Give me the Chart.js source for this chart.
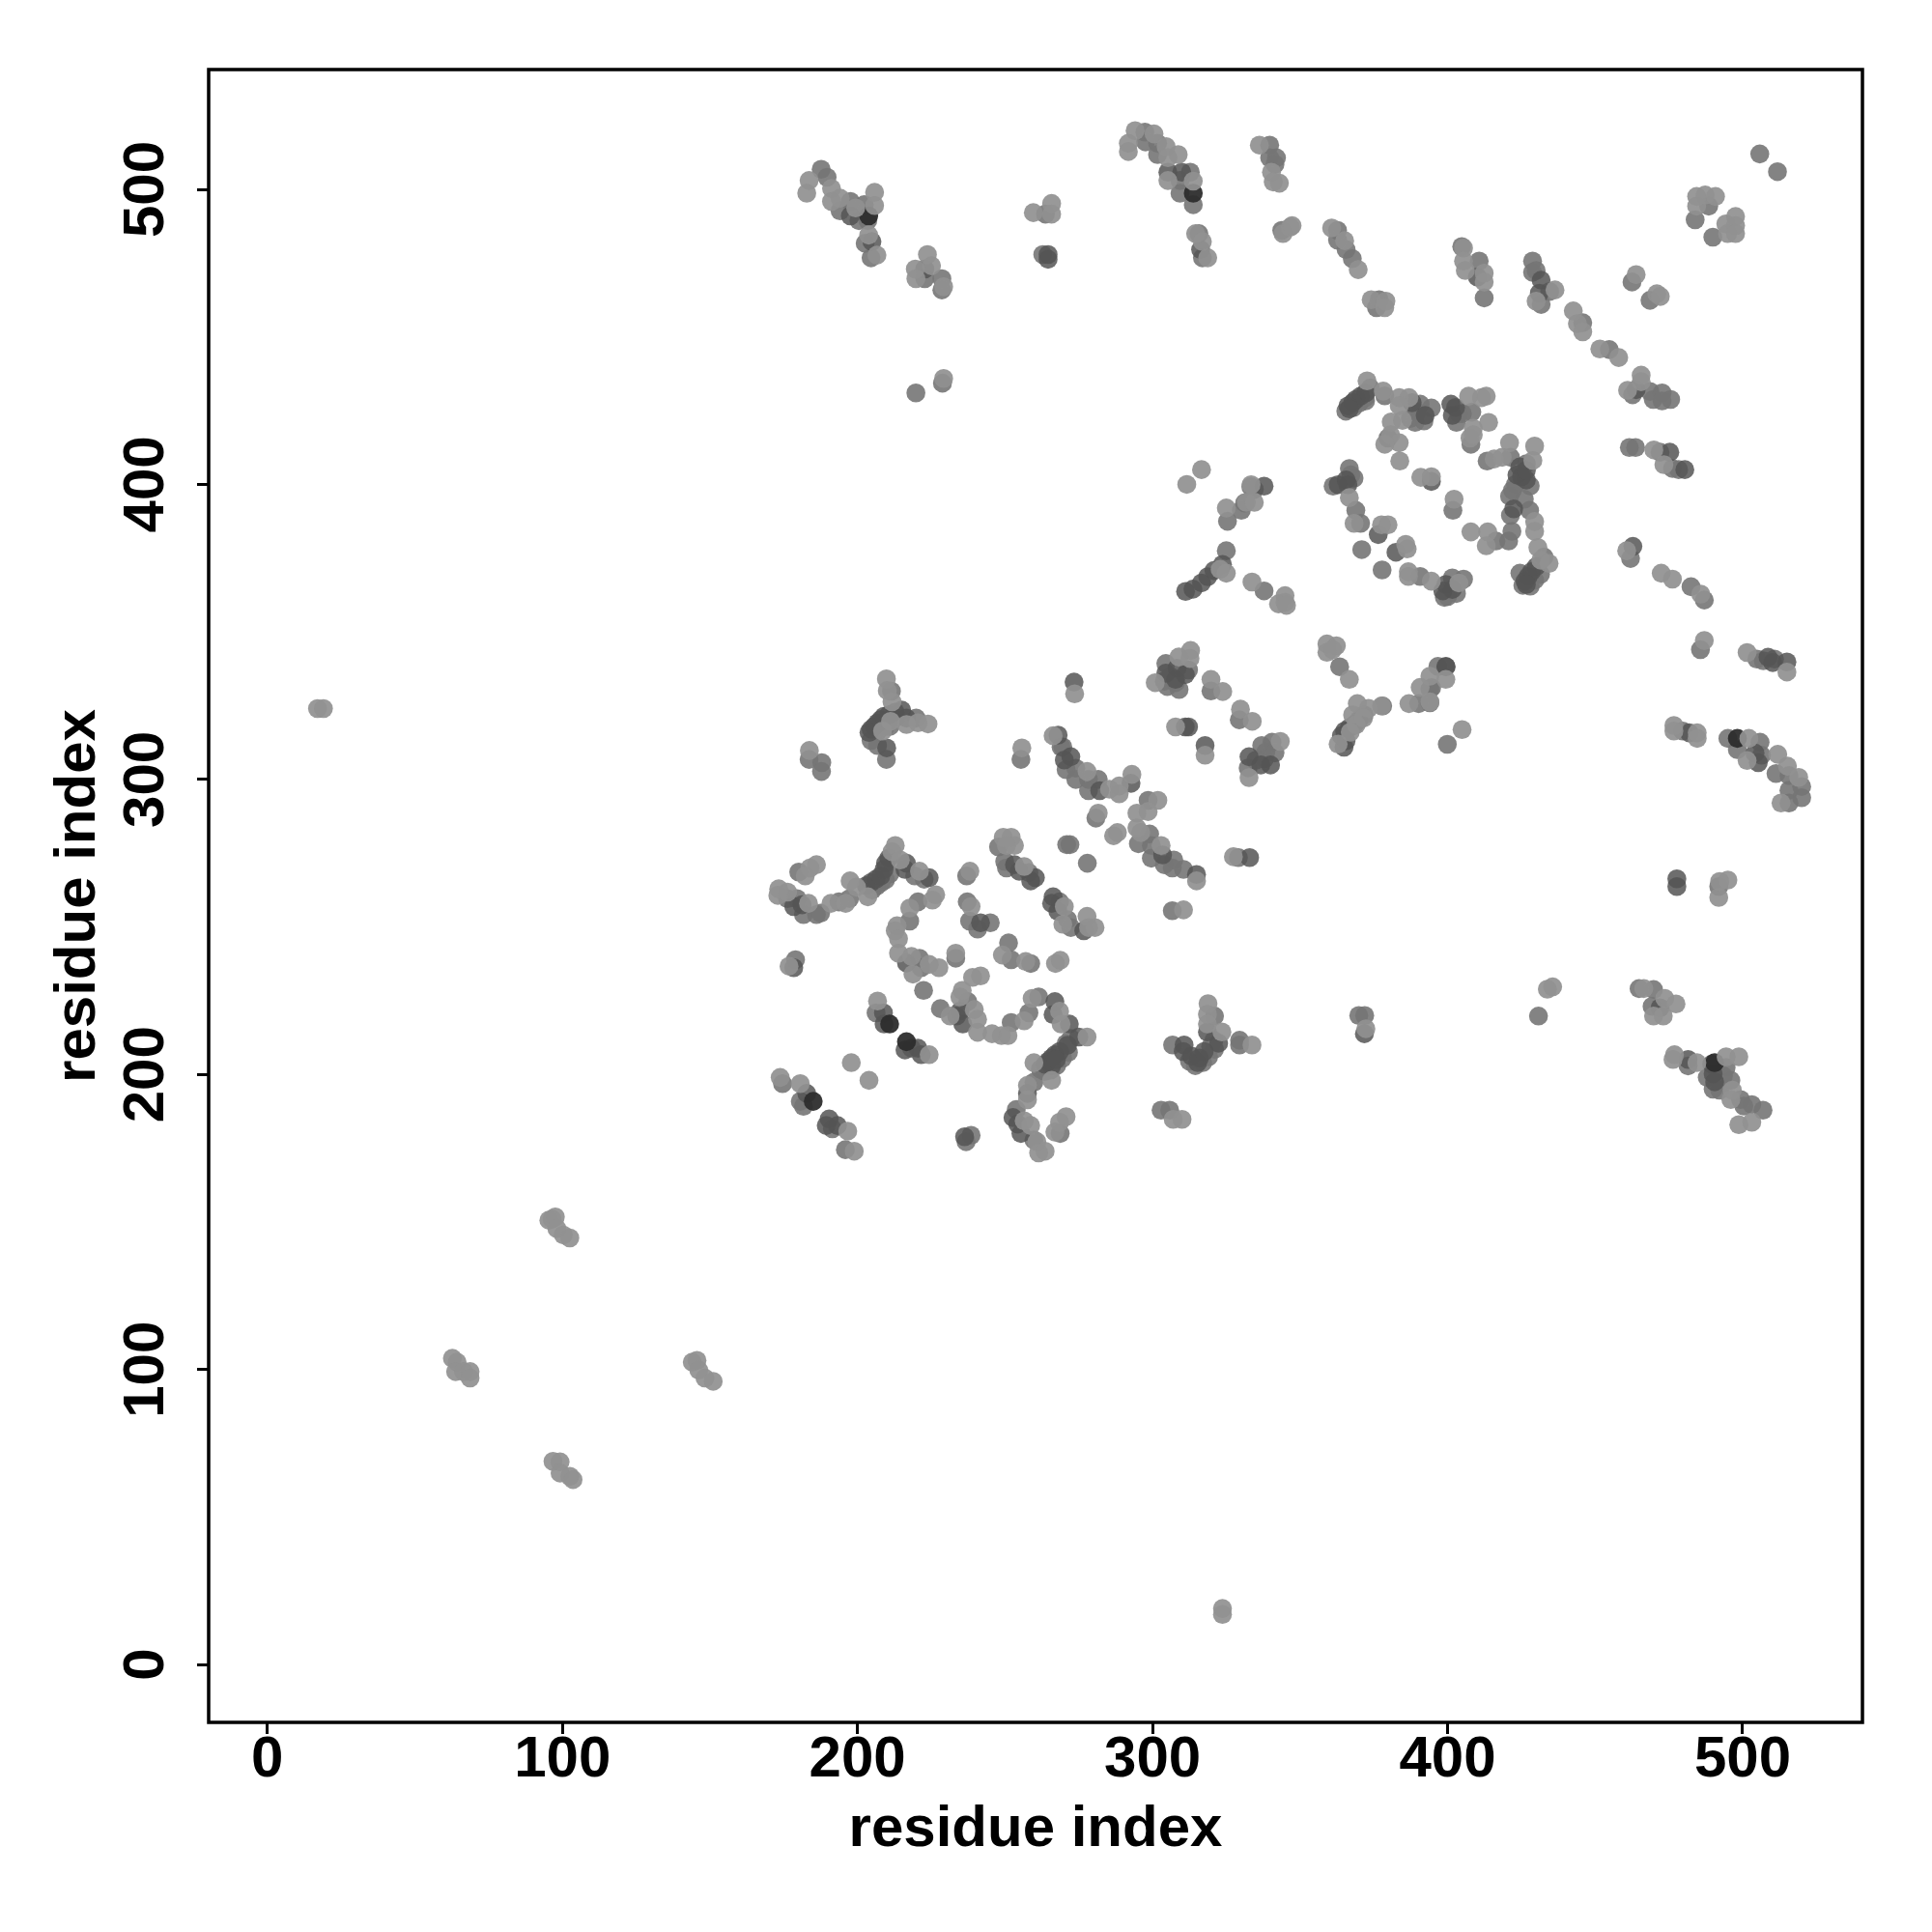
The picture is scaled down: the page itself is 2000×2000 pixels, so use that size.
<!DOCTYPE html>
<html><head><meta charset="utf-8">
<style>html,body{margin:0;padding:0;background:#fff}canvas{display:block}</style>
<script src="https://cdn.jsdelivr.net/npm/chart.js@4"></script>
</head><body>
<div style="width:2000px;height:2000px"><canvas id="c" width="2000" height="2000"></canvas></div>
<script>
const axisTitle = "residue index";
const tickStep = 100;
const xMin = -19.9, xMax = 540.6;
const yMin = -19.6, yMax = 540.6;

const lightContacts = [
[17,324],[19,324],[323.7,19],[323.7,17],
[96.5,151],[95.4,150.6],[97.6,151.7],[98.1,147.8],[100.3,145.6],[102.5,144.6],
[62.7,103.8],[64.3,102.5],[63.8,99.3],[66.5,99.3],[68.7,99.3],[68.7,97.1],
[144,102.5],[145.6,103.1],[146.2,99.8],[148.3,97.1],[151.1,96],
[96.8,68.9],[99.2,68.7],[99.2,64.9],[102.5,63.8],[103.6,62.7],
[183.7,309.8],[209.8,334.1],[210.1,330.1],[211.7,326.3],[220.5,319.2],[223.9,318.8],[216.6,318.6],[208.5,316.4],[211.2,319.7],
[255.7,310.7],[266.3,314.8],[277.8,302.7],[285.4,296.7],[288.7,297.8],[288.7,295.1],[293,301.7],[281.6,288.6],[288.1,282],[286.8,280.9],
[301.8,292.9],[294.7,288.6],[298.5,289.1],[294.7,283.6],[296,282],[302.9,277.6],[314.9,265.6],[310.5,255.8],[327.4,273.8],
[173.3,262.9],[173,260.7],[176.3,261.8],[183.4,258],[183.9,270],[186.1,271.1],[182.3,267.3],[191,258],[196,258],[197.5,265.6],[199.7,263.5],[203.5,260.2],
[212.8,277.6],[211.7,275.5],[214.5,272.7],[221,268.9],[226.5,260.9],[225.4,259.1],[217.7,256.4],[213.4,250.4],[212.8,248.7],[213.9,246],[213.9,241.1],[218.3,240],[218.8,234],[227.6,236.2],[224.3,237.3],[233.3,241.1],
[238.1,268.9],[238.5,256.9],[249.1,240.5],[257,238.3],[267.1,237.6],[268.7,238.7],[176.8,236.7],[241.7,233.4],[239,232.9],
[235.5,228.5],[234.7,226.3],[239.6,222],[240.7,218.7],[240.7,214.3],[231.4,219.8],[245.6,213.8],[248.8,213.2],[251,213.2],[256.5,218.2],[259.2,225.8],[268.5,221.4],[269,217.1],[277.8,212.7],
[259.8,204],[265.8,198],[257.6,196.3],[257.6,191.4],[256.5,184.3],[258.7,182.7],[260.8,177.2],[261.4,173.4],[263.6,174],[270.7,185.7],[268.5,183.8],[266.9,180.5],[307,184.8],[310,184.8],
[196.7,180.8],[198.9,174],[173.8,199],[180.6,196.9],[197.9,204],[203.9,198],[206.8,224.9],[224.3,206.7],
[318.8,224],[318.6,220.4],[318.6,217.1],[323.5,214.4],[333.7,210],[372.3,215.5],[435.6,229.7],[433.8,228.9],
[473.6,225.8],[477.4,223.9],[469.8,219.8],[473.1,219.8],[466.5,229.1],[476.9,206.7],[476.4,205.1],[484.5,204],[494.4,206],[498.7,206],[496.5,194.7],[496,191.5],[498.7,183],[503.1,183.8],
[487,347.1],[501.5,343],[515,336.4],[476.7,318.3],[476.7,316.4],[484.6,315.8],[484.6,313.9],[502.1,313.9],[501.5,306.4],[511.9,308.5],[515.2,304.5],[519,300.7],[513,292],[495,265.9],[491.9,260],[492.2,265.4],
[372.7,435.1],[378.2,431.6],[383.6,429.4],[386.9,429.4],[383.6,426.7],[384.7,421.7],[380.9,421.2],[380.7,416.8],[383.6,414.1],[378.7,413.6],[383.8,407.9],[390.9,402.4],[394.5,402.6],[402.2,395],[407.9,383.9],[413.6,383.9],[413.1,379.2],
[407.1,429.9],[411.5,429.4],[413.1,429.9],[408.7,419],[413.9,421],[407.6,415.7],[408.7,416.8],[415.8,408.6],[418.5,409.2],[421,414.1],[429.5,413],[428.9,408.1],
[429.5,387.4],[429.5,384.1],[430.6,378.6],[434.4,373.2],[431.6,374.3],[403.8,366.6],[394.5,367.2],[386.7,370.4],[386.7,368.8],[385.8,379.7],[386.3,378.1],[377.6,386.3],[379.8,386.3],[368.3,386.8],[366.7,395.5],
[333.4,399.9],[331.8,393.9],[334.5,393.9],[333.7,366.9],[344.9,362.3],[344.9,360],[342.7,359.5],[345.4,359],
[359.1,345.9],[362.3,345.3],[359.1,343.1],[361,344],[366.7,333.9],[399.4,333.9],[394,335],[390.7,331.2],[394,326.3],[386.9,325.7],[377.6,324.9],[373.2,324.1],[369.4,325.7],[367.8,321.9],[362.9,312],[404.9,316.9],
[369,318.5],[371.5,320.8],[367,316],
[312.9,343.7],[312.7,341],[308.9,341.5],[300.9,332.8],[319.8,333.9],[323.8,329.8],[307.8,317.8],[317.8,308.2],[329.8,323.8],[333.8,319.7],[343.3,312.9],[332.7,300.6],[273.6,329],
[311.6,400],[316.6,405],[325,369.9],[322.9,371.2],[325,392],
[183.6,503],[182.8,498.7],[191.2,500.3],[194.1,497],[191.2,495.9],[199.4,493.7],[205.8,499],[205.8,494.5],[203.8,484.5],[206.6,477.7],
[223.7,477.9],[225.1,474.1],[219.6,473],[219.8,469.7],[229.2,467],[229.2,435.9],[259.6,492.1],[265.8,495.2],[265.8,491.6],
[291.8,515.6],[291.8,512.8],[294.1,519.9],[300.5,518.8],[304.6,514.5],[308.7,511.8],[305.2,510.7],[305.2,503],[313.8,502.8],[314.6,485],[316.9,482.3],[318.7,476.8],
[336.2,515],[340.3,505.8],[343,502.1],[340.9,502.5],[346.7,487.2],[344.2,485],[347.3,487.7],
[360.7,486.9],[365.1,482.6],[369.7,472.8],[374.1,462.6],[379.1,462.1],[378.7,459.9],
[405.4,480.1],[405.4,475.7],[406,472.5],[412.4,471.6],[412.4,468.6],[436.4,465.9],[430,462.1],
[442.6,458.8],[444,454.5],[445.8,451.7],[451.6,445.9],[458,443],[465.6,437],[465.6,434.8],[461,431.9],
[463.9,471.1],[470.9,464.6],[472.1,463.7],[484.4,497.6],[484.4,494.3],[487.3,498.1],[490.8,497.6],[494.3,488.3],[497.6,490.8],[497.6,487.7],[494.9,485],[497.6,485],
[460.7,377.5],[469.9,411.7],[473.3,406.7],[472.4,369.9],[476.2,367.9],[485.8,362.8],
[249.4,280.4],[252.1,280.4],[253.2,277.6],[250.5,277.6],[256.5,270.5],[270.1,256.9],[269.6,250.9],[277.8,253.6],[280.5,249.8],[278.3,249.8]
];

const midContacts = [
[183.6,306.8],[187.9,305.7],[187.8,302.7],[209.8,306.8],[211.5,329.9],[219.9,320.8],[204.6,313.2],[206.8,311.5],[255.4,306.8],
[269,311],[269.6,311],[274,303.8],[270.7,303.3],[274,300],[278.3,300],[281.6,300],[278.3,296.2],[280.8,286.9],[270.9,277.9],[272,277.9],[277.9,271.6],
[298.5,292.9],[295.2,278.2],[299,281.5],[299.6,277.6],[299.6,273.3],[304,271.1],[307.2,272.7],[310.5,269.5],[306.7,270],[306.7,255.5],
[176.3,259.6],[179.5,259.6],[181.7,254.2],[186.1,254.2],[187.5,254.7],[180.1,268.6],[193.7,258.5],[197.3,259.6],[219.4,267.3],[222.6,266.2],
[220.5,258.5],[217.7,252],[221,239.4],[221.6,236.2],[233.3,239.4],[222.4,228.5],[237,267.3],[237.2,258.5],[238,252],[240.7,249.3],[245,251.4],
[251.2,244.6],[252.1,238.9],[258.7,237.6],[179,238.9],[237.4,224.7],[228.1,222.3],[252.1,217.6],[258.1,220.9],[261.4,226.3],[272.3,212.2],[270.7,210.5],[259.8,197.4],[253.8,188.1],[259.8,177.8],[268.7,180],
[302.9,187.9],[305.8,187.9],[236.8,177.2],[238.5,179.4],[191.5,181.6],[195.9,174.5],[174.6,196.9],[180.6,190.9],[181.7,189.2],[206.3,220.9],[218.3,208.9],
[321,219.8],[329.5,211.6],[329.5,210],[306.8,210],[319.7,209.5],[320.8,211.6],[369.9,220],[371.9,220],[430.8,219.8],[464.9,229.1],[469.8,228.8],[469.3,223.1],
[481.5,202.9],[494.4,202.4],[496,198],[492.2,194.7],[499.3,191.5],[503.1,189.8],[506.9,187.9],[500.4,189.3],
[485.7,344],[504.8,340.8],[510.8,340.8],[507,340.2],[479.7,316.4],[495,313.9],[505.9,312.6],[498.2,310.1],[506.4,308.2],[511.3,302],[515.7,301.3],[520,297.6],[520,293.8],[515.7,296.3],[515.7,292],[491.9,263.7],
[373.8,432.7],[372.2,428.3],[378.7,430],[390.7,427.2],[394.5,425.9],[389.6,424.5],[387.4,422.3],[379.8,415.7],[401.8,391.2],[403.8,423.9],[408.2,424.5],[407.9,413.6],[413.4,407.9],[421.3,409.2],[426.7,407],
[416.4,380.8],[420.7,380.8],[426,395],[421.3,389.5],[427.8,391.2],[421.8,384.1],[432.7,375.4],[424.5,369.9],[405.4,367.9],[401.6,368.3],[398.9,361.7],[390.7,368.8],[377.8,371],[370.9,377.9],
[368.9,391.2],[370.5,386.8],[366.7,405.4],[368.3,402.1],[361.2,399.4],[367.2,403.2],[334.5,398.3],[330.1,391.2],[337.8,363.9],[363.4,338.2],[396.7,338.3],[394,330.6],[390.2,325.7],
[378,324.9],[371.7,321.9],[399.9,311.9],[394,326],[394.6,331.1],[304.5,339.3],[312.2,337.1],[304,333.3],[307.8,332.8],[319.8,330],[329.4,320.2],[340.5,312.6],[337,311.5],[338.4,309.3],[332.4,303.9],[329.1,273.5],
[187.7,506.8],[189.7,504.1],[197.6,495.9],[194.1,492.7],[200.5,489.4],[202.3,494.8],[203.5,489.4],[202.6,481.7],[204.6,476.8],[222.8,469.7],[228.6,469.7],[228.6,465.9],[228.8,434.3],[219.8,431],[263.7,491.6],[262.8,477.9],
[297.4,519.4],[297.6,516.1],[301.7,515.6],[301.7,511.8],[312.8,505.8],[309.3,503],[309.3,498.7],[313.8,494.8],[315.7,485],[316.9,476.8],
[339.7,515],[342,510.7],[339.7,510.7],[341.5,508.5],[343.8,486.1],[362.7,486.1],[362.7,482.8],[365.6,479.6],[367.7,476.5],[376.8,462.6],[375.9,459.9],
[404.8,480.6],[410.7,475.7],[412.4,463.2],[428.8,475.7],[428.8,471.9],[430,472.5],[434.6,465.4],[431.7,461],[445.8,454.8],[454.8,445.7],[462.7,430.4],[468.6,431.5],[469.7,428.8],[472.7,431],[475.6,428.8],[472.7,428.3],
[462.5,468.6],[468.6,462.4],[488.5,494.3],[483.9,489.7],[489.9,483.8],[505.8,512],[511.8,506],
[463.7,412.5],[461.6,412.5],[472,410.9],[476.2,405.4],[478.3,405],[462,374.9],[482.5,365.3],[487,360.8],[325,377.5],[325.4,387.5],[331.2,393.7],[333.3,399.2],
[247.8,277.1],[249.9,272.2],[258.1,268.4],[250.5,270],[268.5,258.5],[271.2,252.5],[272.3,249.8],
[207,316.5],[209.5,318],[211,318],[213,321],[205,262.5],[206.5,263.8],[208,265],[209.5,266],[211,268],
[262,201.8],[263.5,201],[265.5,201.5],[267.5,203],[269.5,205.5],[271.5,207.5],
[312.5,204.5],[314.5,203],[317,204],[319,206],[321,208.5],
[431.5,369.5],[429.5,367.5],[428,365.5],[425.5,365.8],
[365.5,424.8],[368,426],[370,427.5],[372,429.3],[392,421.5],[389,421],[403,421],[405,424],
[423,400],[428,399.5],[422,398],[421,396],[400,362],[403,363],[488,199],[490,195],[493.5,199.5],
[305,331.5],[309,330.5],[306,335],[338,307],[335,306.5],[341.5,309]
];

const darkContacts = [
[209.9,310.7],[203.9,315.9],[204.6,317],[205.7,318],[206.8,319.2],[207.9,320.3],[209,321.4],[210.6,321.9],[212.8,322.8],[215,323.5],[216.6,320.8],
[268,315],[272.3,307.7],[270.1,306.6],[282.1,296.2],[292.7,298.7],[303.4,274.4],[314.9,267.8],
[178.4,256.9],[181.2,257.5],[203,264],[204.6,265.1],[206.3,266.2],[207.9,267.3],[209.5,271.6],[210.6,273.3],[209,269.5],[216.6,271.6],[216.1,269.5],[224.3,266.7],
[216.6,237.8],[241.7,251.4],[178.4,236.2],[234.7,221.4],[233.6,219.8],[235.7,217.1],[266.9,224.7],[266.3,220.3],[271.8,217.1],[275,212.7],
[268.5,207.8],[266.9,206.7],[265.8,205.6],[264.7,204.5],[263.6,203.4],[265.8,202.9],[267.4,205.1],[271.2,209.9],[257.6,193.6],[252.7,185.4],[254.3,183.2],[255.4,180],[236.3,178.9],
[193.2,182.7],[190.4,184.9],[189.4,182.7],[182.8,193.6],[208.8,220.9],[209,217.1],[220.5,208.9],[216.1,208.3],[221.6,206.7],
[310.7,210],[310.4,207.8],[313.2,206.2],[315.3,204],[315.9,205.6],[317.5,207.8],[318.6,214.4],[322.4,210.6],[371.8,213.8],
[472,222.6],[481.5,205.1],[489.5,203.5],[490,200.2],[490.5,197.5],[508.6,341.4],[515,339.8],[510.2,339.6],[481.9,315.8],[504.2,308.9],[505.3,305.7],[477.7,263.7],[477.7,266.3],
[372.2,431],[370.5,429.9],[368.9,428.8],[367.8,427.7],[366.2,426.6],[366.7,425.6],[388,427.7],[392.4,423.4],[394.5,401],
[401.1,427.2],[402.7,426.1],[401.6,423.4],[424.5,405.9],[423.5,403.2],[425.1,402.6],[426.7,401.5],[426.7,404.8],[422.4,391.7],[430,372.1],[428.4,370.4],[427.3,368.8],[426.2,367.2],[426.7,366.1],
[399.4,366.1],[398.4,363.9],[401.6,364.4],[382.5,377],[376.5,383],[366.2,399.9],[362.9,399.9],[365.6,401.5],[337.8,399.4],[399.4,338.3],
[370,320.2],[368.4,318.6],[366.7,317.5],[365.1,316.4],[364,314.8],[364.9,310.9],[365.6,313.1],[399.5,338.2],
[307.8,333.9],[308.3,337.7],[304.5,336],[311.1,335.5],[311.1,317.8],[312.2,317.8],[317.8,311.5],[332.7,307.7],[336.7,304.9],[340,304.9],[273.4,333],[332.9,273.5],
[311.2,363.7],[313.7,364.5],[316.6,366.6],[318.7,368.7],[320.8,370.8],[323.7,372.9],
[197.6,491],[204.9,482.3],[222.8,473],[264.6,477.9],[264.6,476.3],[305.2,505.8],[309.9,505.8],[316.3,479.6],
[410.1,470.3],[431.7,469.2],[431.1,464.8],[463.9,432.1],[475.3,410.9],[480.4,405],[462.8,379],
[253.2,271.1],[254.8,268.9],[260.3,266.7],[258.7,265.6],[266.3,260.2],[265.8,258],[267.9,255.3],[276.7,248.7]
];

const blackContacts = [
[203.8,491],[313.8,498.7],[210.9,217.1],[216.6,211.1],[185,190.9],[498.2,313.9],[490.5,204]
];

const toPoints = list => list.map(p => ({x:p[0], y:p[1]}));
const fontFam = '"Liberation Sans", Arial, sans-serif';

const boxPlugin = {
  id:'box',
  afterDraw(chart){
    const a = chart.chartArea, c = chart.ctx;
    c.save(); c.strokeStyle='#000'; c.lineWidth=3.5;
    c.strokeRect(a.left,a.top,a.right-a.left,a.bottom-a.top);
    c.restore();
  }
};
const mk = (data,color,label) => ({label,data:toPoints(data),backgroundColor:color,borderWidth:0,pointRadius:9.8,pointHoverRadius:9.8});
const axis = (extra,pad) => Object.assign({
  type:'linear',
  grid:{drawOnChartArea:false,drawTicks:true,tickLength:12,tickWidth:3,tickColor:'#000',lineWidth:3,color:'#000'},
  border:{display:false},
  title:{display:true,text:axisTitle,color:'#000',padding:pad,font:{family:fontFam,size:60,weight:'bold'}}
},extra);

new Chart(document.getElementById('c'),{
  type:'scatter',
  data:{datasets:[
    mk(lightContacts,'rgba(145,145,145,0.93)','light'),
    mk(blackContacts,'rgba(45,45,45,0.95)','black'),
    mk(darkContacts,'rgba(85,85,85,0.85)','dark'),
    mk(midContacts,'rgba(118,118,118,0.9)','mid')
  ]},
  options:{
    responsive:false,animation:false,
    layout:{padding:{top:72,right:72,left:0,bottom:0}},
    plugins:{legend:{display:false},tooltip:{enabled:false}},
    scales:{
      x:axis({position:'bottom',min:xMin,max:xMax,
        afterFit(s){s.height=217;},
        ticks:{stepSize:tickStep,includeBounds:false,autoSkip:false,maxRotation:0,minRotation:0,color:'#000',padding:-9,font:{family:fontFam,size:60,weight:'bold'}},
      },{top:70,bottom:70}),
      y:axis({position:'left',min:yMin,max:yMax,
        afterFit(s){s.width=216;},
        ticks:{stepSize:tickStep,includeBounds:false,autoSkip:false,minRotation:90,maxRotation:90,crossAlign:'center',color:'#000',padding:1,font:{family:fontFam,size:60,weight:'bold'}},
      },{top:45,bottom:45})
    }
  },
  plugins:[boxPlugin]
});
</script>
</body></html>
